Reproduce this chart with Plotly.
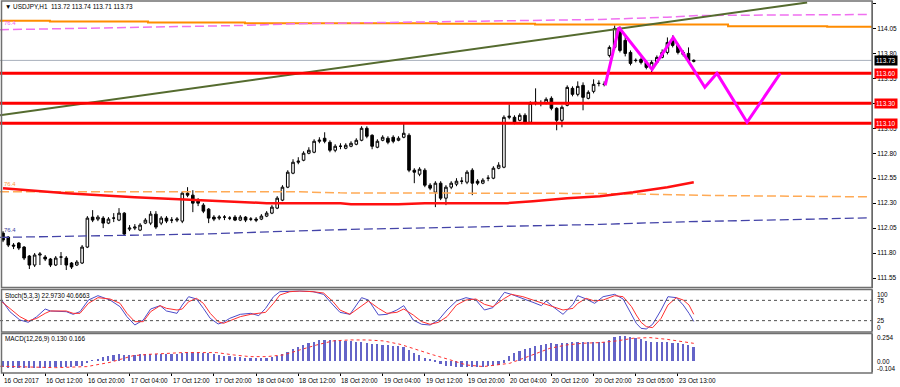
import plotly.graph_objects as go

# ---------------- data ----------------
bar_index = list(range(132))
opens = [112.00,111.96,111.88,111.90,111.86,111.77,111.68,111.78,111.76,111.74,111.68,111.76,111.75,111.70,111.68,111.70,
         111.86,112.16,112.14,112.15,112.10,112.15,112.13,112.20,112.04,112.05,112.03,112.10,112.10,112.19,112.10,112.15,
         112.13,112.13,112.12,112.40,112.38,112.33,112.28,112.24,112.16,112.15,112.16,112.15,112.16,112.13,112.16,112.14,
         112.14,112.14,112.17,112.20,112.25,112.33,112.46,112.60,112.71,112.73,112.80,112.81,112.92,112.95,112.91,112.83,
         112.87,112.85,112.87,112.89,112.93,113.05,112.98,112.86,112.93,112.95,112.96,112.93,112.96,112.98,112.63,112.59,
         112.63,112.48,112.41,112.50,112.35,112.46,112.49,112.52,112.51,112.63,112.52,112.50,112.55,112.55,112.65,112.66,
         113.16,113.16,113.13,113.18,113.11,113.30,113.30,113.30,113.35,113.25,113.13,113.28,113.45,113.39,113.48,113.35,
         113.42,113.50,113.49,113.78,113.86,114.03,113.93,113.81,113.73,113.74,113.71,113.65,113.71,113.76,113.81,113.93,
         113.88,113.81,113.80,113.72]
highs = [112.02,111.97,111.90,111.91,111.87,111.78,111.80,111.81,111.78,111.75,111.77,111.81,111.77,111.71,111.73,111.88,
         112.17,112.23,112.18,112.17,112.16,112.20,112.25,112.21,112.08,112.09,112.10,112.15,112.22,112.22,112.17,112.17,
         112.16,112.16,112.42,112.46,112.43,112.35,112.30,112.25,112.18,112.18,112.18,112.17,112.18,112.18,112.17,112.16,
         112.16,112.19,112.22,112.28,112.37,112.48,112.63,112.74,112.76,112.82,112.86,112.94,112.96,113.01,112.93,112.89,
         112.90,112.90,112.92,112.95,113.07,113.07,112.99,112.94,112.98,112.97,112.98,112.97,113.11,113.00,112.65,112.66,
         112.65,112.50,112.52,112.52,112.48,112.52,112.55,112.56,112.63,112.65,112.54,112.55,112.58,112.67,112.71,113.18,
         113.29,113.18,113.20,113.20,113.32,113.45,113.33,113.36,113.37,113.26,113.28,113.48,113.47,113.52,113.51,113.43,
         113.54,113.53,113.52,113.88,114.08,114.07,113.98,113.83,113.75,113.76,113.73,113.73,113.78,113.84,113.96,113.98,
         113.90,113.83,113.86,113.74]
lows = [111.91,111.86,111.84,111.83,111.73,111.64,111.66,111.68,111.72,111.66,111.67,111.68,111.63,111.64,111.67,111.69,
        111.85,112.11,112.12,112.05,112.09,112.11,112.12,111.98,112.02,112.03,112.02,112.09,112.08,112.04,112.08,112.10,
        112.10,112.11,112.10,112.36,112.21,112.27,112.20,112.10,112.12,112.13,112.13,112.13,112.12,112.12,112.11,112.12,
        112.11,112.13,112.16,112.19,112.24,112.32,112.45,112.59,112.69,112.72,112.79,112.80,112.90,112.90,112.81,112.81,
        112.84,112.84,112.86,112.88,112.92,112.95,112.84,112.85,112.92,112.89,112.90,112.92,112.95,112.61,112.50,112.57,
        112.46,112.43,112.26,112.33,112.28,112.44,112.47,112.49,112.49,112.38,112.48,112.49,112.52,112.54,112.64,112.65,
        113.14,113.09,113.12,113.09,113.10,113.28,113.27,113.29,113.23,113.03,113.06,113.27,113.37,113.37,113.23,113.34,
        113.40,113.47,113.47,113.76,113.84,113.81,113.77,113.68,113.71,113.69,113.64,113.60,113.70,113.75,113.79,113.86,
        113.79,113.77,113.71,113.71]
closes = [111.93,111.88,111.87,111.85,111.75,111.68,111.78,111.79,111.74,111.68,111.75,111.76,111.68,111.66,111.71,111.86,
          112.15,112.13,112.16,112.10,112.14,112.15,112.20,111.99,112.05,112.06,112.08,112.13,112.19,112.06,112.15,112.12,
          112.13,112.14,112.40,112.38,112.30,112.30,112.22,112.15,112.14,112.16,112.16,112.15,112.13,112.16,112.13,112.14,
          112.13,112.17,112.20,112.26,112.35,112.46,112.61,112.71,112.72,112.80,112.83,112.92,112.93,112.92,112.83,112.87,
          112.87,112.88,112.90,112.93,113.05,112.97,112.87,112.92,112.96,112.91,112.92,112.95,113.00,112.63,112.61,112.64,
          112.48,112.45,112.50,112.35,112.46,112.50,112.52,112.52,112.61,112.50,112.50,112.53,112.55,112.65,112.68,113.16,
          113.17,113.11,113.18,113.11,113.30,113.31,113.30,113.34,113.25,113.13,113.26,113.46,113.39,113.47,113.36,113.41,
          113.49,113.50,113.49,113.86,114.05,113.83,113.80,113.70,113.73,113.71,113.66,113.71,113.76,113.81,113.91,113.88,
          113.81,113.79,113.73,113.73]

macd_hist = [-0.060,-0.062,-0.063,-0.064,-0.065,-0.066,-0.066,-0.065,-0.064,-0.062,-0.060,-0.058,-0.056,-0.054,-0.050,-0.045,
             -0.020,0.003,
             0.019,0.041,0.050,0.057,0.063,0.057,0.057,0.057,0.063,0.066,0.069,0.069,0.066,0.066,0.066,0.066,
             0.079,0.088,0.088,0.082,0.079,0.072,0.063,0.057,0.050,0.047,0.041,0.035,0.028,0.025,0.025,0.028,
             0.031,0.038,0.047,0.063,0.088,0.110,0.132,0.151,0.167,0.182,0.195,0.198,0.198,0.195,0.192,0.189,
             0.186,0.182,0.176,0.170,0.164,0.157,0.154,0.151,0.145,0.138,0.129,0.104,0.079,0.057,0.031,0.013,
             -0.006,-0.031,-0.044,-0.047,-0.053,-0.057,-0.060,-0.060,-0.057,-0.053,-0.050,-0.047,-0.038,-0.016,
             0.050,0.072,0.094,0.110,0.126,0.142,0.151,0.160,0.167,0.160,0.167,0.173,0.176,0.176,0.176,0.176,
             0.176,0.176,0.182,0.198,0.230,0.236,0.236,0.230,0.220,0.208,0.192,0.182,0.176,0.176,0.176,0.173,
             0.167,0.157,0.148,0.130]
signal_x = [-0.5,5,10,15.9,20.3,24.7,27.9,34.2,40.5,43.7,46.8,50,53.2,56.3,59.5,62.6,65.8,69,72.1,75.3,78.5,81.6,84.5,
            87.9,91.1,94.2,96.1,98.7,101.2,103.7,106.9,110,113.2,116.4,119.5,122.7,125.9,129,131]
signal_y = [-0.050,-0.058,-0.063,-0.053,-0.013,0.050,0.063,0.079,0.079,0.057,0.041,0.041,0.057,0.104,0.151,0.189,0.198,
            0.198,0.189,0.157,0.104,0.057,0.015,-0.038,-0.053,-0.038,-0.022,0.025,0.072,0.119,0.151,0.167,0.173,0.189,
            0.214,0.220,0.204,0.182,0.166]

stoch_k_x = [-0.25,1.3,3.2,4.8,6.4,8,9,12,13.3,14.6,16.2,18,20.3,22.2,23.5,25,26.6,28,29.8,31,33,34,35.2,36.7,38,39.3,
             40.8,41.8,43,45,47,48.5,49.8,51.3,52.5,54.4,56.3,58.8,60.8,62.6,63.9,65.8,68,69.3,71.2,72.8,74.7,76,77.8,
             79.4,81,82.6,84.2,86,87.8,89.7,91.3,92.9,95.1,96.4,98.6,100.5,102.1,103,104.3,106.2,108.1,109,110.6,112.2,
             113.8,116,117.6,119.2,120.1,121,122,123.2,124.8,126.1,127.7,129,130.1,131]
stoch_k_y = [75.8,47.1,26.6,20.9,34.8,53.7,48.8,47.1,40.6,47.1,75.8,86.5,75.8,59.4,34.8,14.3,26.6,53.7,61.9,48.8,43.0,
             63.5,84.0,78.3,55.3,30.7,16.8,20.9,30.7,40.6,43.0,37.3,55.3,84.0,96.3,98.0,98.0,96.3,89.8,63.5,45.5,40.6,
             81.6,75.8,38.9,40.6,51.2,61.9,26.6,16.0,14.3,26.6,51.2,73.4,81.6,75.8,51.2,57.0,94.7,89.8,79.9,70.1,61.9,
             73.4,59.4,40.6,65.2,86.5,78.3,67.6,84.0,89.8,78.3,38.9,18.4,6.1,4.5,16.0,51.2,84.0,81.6,63.5,43.0,22.97]
stoch_d_x = [-0.25,1.3,3.2,4.8,6.4,8,9,12,13.3,14.6,16.2,18,20.3,22.2,23.5,25,26.6,28,29.8,31,33,34,35.2,36.7,38,39.3,
             40.8,41.8,43,45,47,48.5,49.8,51.3,52.5,54.4,56.3,58.8,60.8,62.6,63.9,65.8,68,69.3,71.2,72.8,74.7,76,77.8,
             79.4,81,82.6,84.2,86,87.8,89.7,91.3,92.9,95.1,96.4,98.6,100.5,102.1,103,104.3,106.2,108.1,109,110.6,112.2,
             113.8,116,117.6,119.2,120.1,121,122,123.2,124.8,126.1,127.7,129,130.1,131]
stoch_d_y = [71.7,55.3,34.8,24.2,30.7,43.0,48.8,48.8,43.0,43.0,67.6,81.6,78.3,67.6,43.0,22.5,22.5,47.1,61.9,55.3,51.2,
             53.7,71.7,79.9,67.6,43.0,22.5,18.4,24.2,34.8,40.6,43.0,45.5,67.6,88.1,96.3,98.0,96.3,93.0,71.7,51.2,40.6,
             61.9,73.4,55.3,43.0,45.5,53.7,38.9,22.5,16.0,20.9,34.8,63.5,75.8,78.3,65.2,59.4,79.9,89.8,84.0,75.8,67.6,
             65.2,59.4,51.2,55.3,67.6,79.9,73.4,75.8,86.5,84.0,59.4,38.9,20.9,10.2,7.8,30.7,63.5,81.6,75.8,63.5,40.67]

ma_x = [0,12,25,37.4,50,56.3,64,66,75,80,95.6,100.5,107,113.2,119.5,126,131]
ma_y = [112.45,112.40,112.36,112.33,112.30,112.30,112.30,112.29,112.29,112.30,112.30,112.32,112.35,112.37,112.41,112.46,112.51]

orange_step_x = [-0.6,8.9,27.5,45.9,82.5,100.9,137.5,156.3,164.8]
orange_step_y = [114.127,114.12,114.11,114.103,114.097,114.09,114.073,114.067,114.067]

pink_dash_x = [-0.57,2.65,8.9,18.4,26.6,45.5,55,63.9,82.5,113.2,125.9,132.2,164.4]
pink_dash_y = [114.037,114.04,114.043,114.05,114.063,114.08,114.097,114.103,114.12,114.14,114.163,114.18,114.19]

orange_dash_x = [-0.57,56.3,63.9,113.2,137.3,156.3,164.4]
orange_dash_y = [112.415,112.413,112.403,112.397,112.375,112.363,112.363]

blue_dash_x = [-0.57,14.6,27.9,37.4,50.6,56.3,65.8,75.3,84.8,94.3,103.7,113.2,122.7,129,144.9,151.1,164.4]
blue_dash_y = [111.957,111.97,111.98,111.99,112.013,112.023,112.037,112.047,112.057,112.063,112.073,112.087,112.103,
               112.113,112.13,112.137,112.153]

trend_x = [-0.57, 152.5]
trend_y = [113.18, 114.31]

zigzag_x = [114.2,116.8,123.1,127.1,133.1,135.4,141.1,147.4]
zigzag_y = [113.48,114.06,113.64,113.96,113.46,113.60,113.11,113.60]

levels = [113.60, 113.30, 113.10]
current_price = 113.73

price_ticks = [114.30,114.05,113.80,113.55,113.30,113.05,112.80,112.55,112.30,112.05,111.80,111.55]
time_tick_idx = list(range(0, 129, 8))
time_tick_text = ["16 Oct 2017","16 Oct 12:00","16 Oct 20:00","17 Oct 04:00","17 Oct 12:00","17 Oct 20:00",
                  "18 Oct 04:00","18 Oct 12:00","18 Oct 20:00","19 Oct 04:00","19 Oct 12:00","19 Oct 20:00",
                  "20 Oct 04:00","20 Oct 12:00","20 Oct 20:00","23 Oct 05:00","23 Oct 13:00"]

# ---------------- layout helpers ----------------
W, H = 900, 387
def py(p):  # pixel row -> paper y
    return 1 - p / H
def px(p):
    return p / W
XR = 872 / W
FONT = "Liberation Sans, Arial, sans-serif"
FS = 6.4

fig = go.Figure()

# main panel lines
fig.add_trace(go.Scatter(x=orange_step_x, y=orange_step_y, mode="lines", line=dict(color="#FF8C00", width=2, shape="hv"),
                         xaxis="x", yaxis="y", hoverinfo="skip"))
fig.add_trace(go.Scatter(x=pink_dash_x, y=pink_dash_y, mode="lines", line=dict(color="#F070F0", width=1.5, dash="9px,4px"),
                         xaxis="x", yaxis="y", hoverinfo="skip"))
fig.add_trace(go.Scatter(x=orange_dash_x, y=orange_dash_y, mode="lines", line=dict(color="#FFAA55", width=1.5, dash="9px,4px"),
                         xaxis="x", yaxis="y", hoverinfo="skip"))
fig.add_trace(go.Scatter(x=blue_dash_x, y=blue_dash_y, mode="lines", line=dict(color="#4444A8", width=1.3, dash="9px,4px"),
                         xaxis="x", yaxis="y", hoverinfo="skip"))
fig.add_trace(go.Scatter(x=ma_x, y=ma_y, mode="lines", line=dict(color="#FF1010", width=2.5),
                         xaxis="x", yaxis="y", hoverinfo="skip"))
fig.add_trace(go.Scatter(x=trend_x, y=trend_y, mode="lines", line=dict(color="#556B2F", width=2),
                         xaxis="x", yaxis="y", hoverinfo="skip"))
for lv in levels:
    fig.add_trace(go.Scatter(x=[-0.569, 164.8], y=[lv, lv], mode="lines", line=dict(color="#FF0000", width=3),
                             xaxis="x", yaxis="y", hoverinfo="skip"))

fig.add_trace(go.Candlestick(x=bar_index, open=opens, high=highs, low=lows, close=closes,
                             increasing=dict(line=dict(color="black", width=1), fillcolor="white"),
                             decreasing=dict(line=dict(color="black", width=1), fillcolor="black"),
                             whiskerwidth=0, xaxis="x", yaxis="y", hoverinfo="skip"))

fig.add_trace(go.Scatter(x=zigzag_x, y=zigzag_y, mode="lines", line=dict(color="#FF00FF", width=3),
                         xaxis="x", yaxis="y", hoverinfo="skip"))

# stochastic
fig.add_trace(go.Scatter(x=stoch_k_x, y=stoch_k_y, mode="lines", line=dict(color="#4B4BC8", width=1),
                         xaxis="x", yaxis="y2", hoverinfo="skip"))
fig.add_trace(go.Scatter(x=stoch_d_x, y=stoch_d_y, mode="lines", line=dict(color="#FF3030", width=1),
                         xaxis="x", yaxis="y2", hoverinfo="skip"))

# macd
fig.add_trace(go.Bar(x=bar_index, y=macd_hist, width=0.32, marker=dict(color="#6464C8", line=dict(width=0)),
                     xaxis="x", yaxis="y3", hoverinfo="skip"))
fig.add_trace(go.Scatter(x=signal_x, y=signal_y, mode="lines", line=dict(color="#FF3030", width=1, dash="dot"),
                         xaxis="x", yaxis="y3", hoverinfo="skip"))

shapes = []
# current price line
shapes.append(dict(type="line", xref="x", yref="y", x0=-0.569, x1=164.8, y0=current_price, y1=current_price,
                   line=dict(color="#A8B0BC", width=1), layer="below"))
# stoch levels
for lv in (75, 25):
    shapes.append(dict(type="line", xref="x", yref="y2", x0=-0.569, x1=164.8, y0=lv, y1=lv,
                       line=dict(color="#505050", width=1, dash="dot")))
# panel frames
for top, bot in ((1, 287.5), (289.5, 332), (333.5, 373)):
    shapes.append(dict(type="rect", xref="paper", yref="paper", x0=px(1.5), x1=XR, y0=py(bot), y1=py(top),
                       line=dict(color="#707070", width=1.5)))

annotations = []
def add_text(x, y, text, color="black", size=FS, xanchor="left", xref="paper", yref="paper", bg=None):
    a = dict(x=x, y=y, xref=xref, yref=yref, text=text, showarrow=False, xanchor=xanchor, yanchor="middle",
             font=dict(family=FONT, size=size, color=color), borderpad=0)
    if bg:
        a["bgcolor"] = bg
        a["borderpad"] = 1
    annotations.append(a)

add_text(px(4), py(7), "▼ USDJPY,H1  113.72 113.74 113.71 113.73")
add_text(px(2.5), py(23), "76.4", color="#F060F0", size=6)
add_text(px(2.5), py(183.5), "76.4", color="#FF9A40", size=6)
add_text(px(2.5), py(230), "76.4", color="#4040A0", size=6)
add_text(px(4), py(295.5), "Stoch(5,3,3) 22.9730 40.6663")
add_text(px(4), py(338.5), "MACD(12,26,9) 0.130 0.166")

for t, lab in zip(time_tick_idx, time_tick_text):
    add_text(t, py(380), lab, xref="x")

for txt, yy in (("100", 294.5), ("75", 300.5), ("25", 320.5), ("0", 327)):
    add_text(px(876), py(yy), txt)
for txt, yy in (("0.254", 337), ("0.00", 361), ("-0.104", 368)):
    add_text(px(876), py(yy), txt)

add_text(px(874), current_price, "113.73", color="white", yref="y", bg="black")
for lv in levels:
    add_text(px(874), lv, f"{lv:.2f}", color="white", yref="y", bg="#FF0000")

fig.update_layout(
    width=W, height=H, margin=dict(l=0, r=0, t=0, b=0),
    paper_bgcolor="white", plot_bgcolor="white", showlegend=False,
    font=dict(family=FONT, size=FS, color="black"),
    xaxis=dict(domain=[0, XR], range=[-0.569, 164.8], anchor="y3", showgrid=False, zeroline=False,
               showline=False, tickvals=time_tick_idx, showticklabels=False, ticks="outside", ticklen=3,
               tickcolor="black", rangeslider=dict(visible=False), fixedrange=True),
    yaxis=dict(domain=[py(287.5), py(1)], range=[111.455, 114.325], side="right", anchor="x",
               tickvals=price_ticks, ticktext=[f"{v:.2f}" for v in price_ticks], ticks="outside", ticklen=3,
               tickcolor="black", tickfont=dict(size=6.5, family=FONT), showline=True, linecolor="#505050",
               showgrid=False, zeroline=False, fixedrange=True),
    yaxis2=dict(domain=[py(330.8), py(290.2)], range=[0, 100], side="right", anchor="x", showticklabels=False,
                showline=True, linecolor="#505050", showgrid=False, zeroline=False, ticks="", fixedrange=True),
    yaxis3=dict(domain=[py(372), py(334)], range=[-0.104, 0.254], side="right", anchor="x", showticklabels=False,
                showline=True, linecolor="#505050", showgrid=False, zeroline=False, ticks="", fixedrange=True),
    bargap=0, shapes=shapes, annotations=annotations,
)

fig.write_html("out.html", config={"displayModeBar": False},
               post_script="document.body.style.margin='0';document.body.style.padding='0';")
